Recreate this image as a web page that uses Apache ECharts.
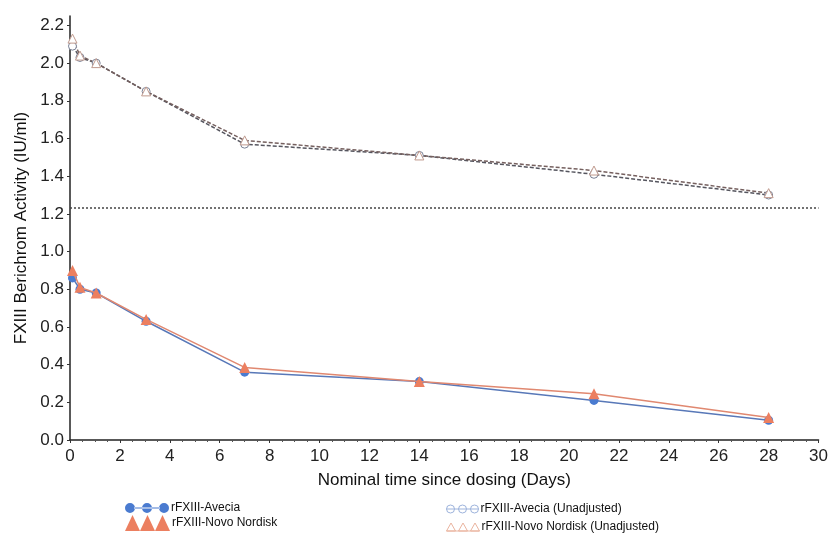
<!DOCTYPE html>
<html>
<head>
<meta charset="utf-8">
<script src="https://cdn.jsdelivr.net/npm/echarts@6/dist/echarts.min.js"></script>
<style>html,body{margin:0;padding:0;background:#fff;}#c{width:831px;height:538px;}</style>
</head>
<body>
<div id="c"></div>
<script>
// Data
var times = [0.1, 0.4, 1.05, 3.05, 7, 14, 21, 28];
var avecia = [0.86, 0.80, 0.78, 0.63, 0.36, 0.31, 0.21, 0.105];
var novo = [0.90, 0.81, 0.78, 0.64, 0.385, 0.31, 0.245, 0.12];
var aveciaUnadj = [2.09, 2.03, 2.00, 1.85, 1.57, 1.51, 1.41, 1.30];
var novoUnadj = [2.13, 2.04, 2.00, 1.85, 1.59, 1.51, 1.43, 1.31];
var refLevel = 1.23;
var seriesNames = ['rFXIII-Avecia', 'rFXIII-Novo Nordisk', 'rFXIII-Avecia (Unadjusted)', 'rFXIII-Novo Nordisk (Unadjusted)'];
var xTitle = 'Nominal time since dosing (Days)';
var yTitle = 'FXIII Berichrom Activity (IU/ml)';

function pairs(xs, ys) { return xs.map(function (x, i) { return [x, ys[i]]; }); }

var font = '"Liberation Sans", Arial, sans-serif';
var narrow = '"Liberation Sans Narrow", "Liberation Sans", Arial, sans-serif';

var circlesIcon = 'path://M0,5a5,5 0 1,0 10,0a5,5 0 1,0 -10,0Z M17,5a5,5 0 1,0 10,0a5,5 0 1,0 -10,0Z M34,5a5,5 0 1,0 10,0a5,5 0 1,0 -10,0Z M9,4.4h26v1.2h-26Z';
var trianglesIcon = 'path://M0,16L7.5,0L15,16Z M15,16L22.5,0L30,16Z M30,16L37.5,0L45,16Z';
var openCirclesIcon = 'path://M0,4a4,4 0 1,0 8,0a4,4 0 1,0 -8,0Z M12,4a4,4 0 1,0 8,0a4,4 0 1,0 -8,0Z M24,4a4,4 0 1,0 8,0a4,4 0 1,0 -8,0Z M0,4h32';
var openTrianglesIcon = 'path://M0,8L4.5,0L9,8Z M12,8L16.5,0L21,8Z M24,8L28.5,0L33,8Z M0,8h33';

function legendAt(name, icon, left, top, w, h, style) {
  return {
    show: true, left: left, top: top, orient: 'vertical', padding: 0,
    itemWidth: w, itemHeight: h, itemGap: 0, symbolKeepAspect: false,
    textStyle: { fontFamily: narrow, fontSize: 12, color: '#111', padding: [0, 0, 0, -3] },
    data: [{ name: name, icon: icon, itemStyle: style }]
  };
}

var chart = echarts.init(document.getElementById('c'), null, { renderer: 'canvas' });
chart.setOption({
  backgroundColor: '#fff',
  animation: false,
  grid: { left: 70, right: 11, top: 16, bottom: 98 },
  legend: [
    legendAt(seriesNames[0], circlesIcon, 125, 502, 44, 10, { color: '#4a7bd0', borderWidth: 0 }),
    legendAt(seriesNames[1], trianglesIcon, 125, 515, 45, 16, { color: '#ec7f60', borderWidth: 0 }),
    legendAt(seriesNames[2], openCirclesIcon, 446, 503, 32, 8, { color: 'transparent', borderColor: '#9db3dc', borderWidth: 1 }),
    legendAt(seriesNames[3], openTrianglesIcon, 446, 521, 33, 8, { color: 'transparent', borderColor: '#eab49f', borderWidth: 1 })
  ],
  xAxis: {
    type: 'value', min: 0, max: 30, interval: 2,
    name: xTitle, nameLocation: 'middle', nameGap: 32,
    nameTextStyle: { fontFamily: font, fontSize: 17, color: '#111' },
    axisLine: { show: true, lineStyle: { color: '#222', width: 1.5 } },
    axisTick: { show: true, length: 3, inside: false, lineStyle: { color: '#333' } },
    minorTick: { show: true, splitNumber: 4, length: 2, lineStyle: { color: '#555' } },
    axisLabel: { fontFamily: font, fontSize: 17, color: '#222', margin: 8 },
    splitLine: { show: false }
  },
  yAxis: {
    type: 'value', min: 0, max: 2.25, interval: 0.2,
    name: yTitle, nameLocation: 'middle', nameGap: 39, nameRotate: 90,
    nameTextStyle: { fontFamily: font, fontSize: 17, color: '#111' },
    axisLine: { show: true, lineStyle: { color: '#222', width: 1.5 } },
    axisTick: { show: true, length: 3, lineStyle: { color: '#333' } },
    axisLabel: { fontFamily: font, fontSize: 17, color: '#222', margin: 6,
      formatter: function (v) { return v.toFixed(1); } },
    splitLine: { show: false }
  },
  series: [
    {
      name: seriesNames[2], type: 'line', data: pairs(times, aveciaUnadj),
      symbol: 'circle', symbolSize: 8, z: 3,
      lineStyle: { color: '#55555e', width: 1.5, type: [4, 2] },
      itemStyle: { color: '#ffffff', borderColor: '#7a8296', borderWidth: 1 },
      markLine: {
        silent: true, symbol: ['none', 'none'], label: { show: false },
        lineStyle: { color: '#444', width: 1.5, type: [2, 2] },
        data: [{ yAxis: refLevel }]
      }
    },
    {
      name: seriesNames[3], type: 'line', data: pairs(times, novoUnadj),
      symbol: 'triangle', symbolSize: 9, z: 3,
      lineStyle: { color: '#75605f', width: 1.5, type: [4, 2] },
      itemStyle: { color: '#ffffff', borderColor: '#c09a8e', borderWidth: 1 }
    },
    {
      name: seriesNames[0], type: 'line', data: pairs(times, avecia),
      symbol: 'circle', symbolSize: 9, z: 4,
      lineStyle: { color: '#5878b8', width: 1.5 },
      itemStyle: { color: '#4a7bd0', borderWidth: 0 }
    },
    {
      name: seriesNames[1], type: 'line', data: pairs(times, novo),
      symbol: 'triangle', symbolSize: 11, z: 5,
      lineStyle: { color: '#e08870', width: 1.5 },
      itemStyle: { color: '#ec7f60', borderWidth: 0 }
    }
  ]
});
</script>
</body>
</html>
